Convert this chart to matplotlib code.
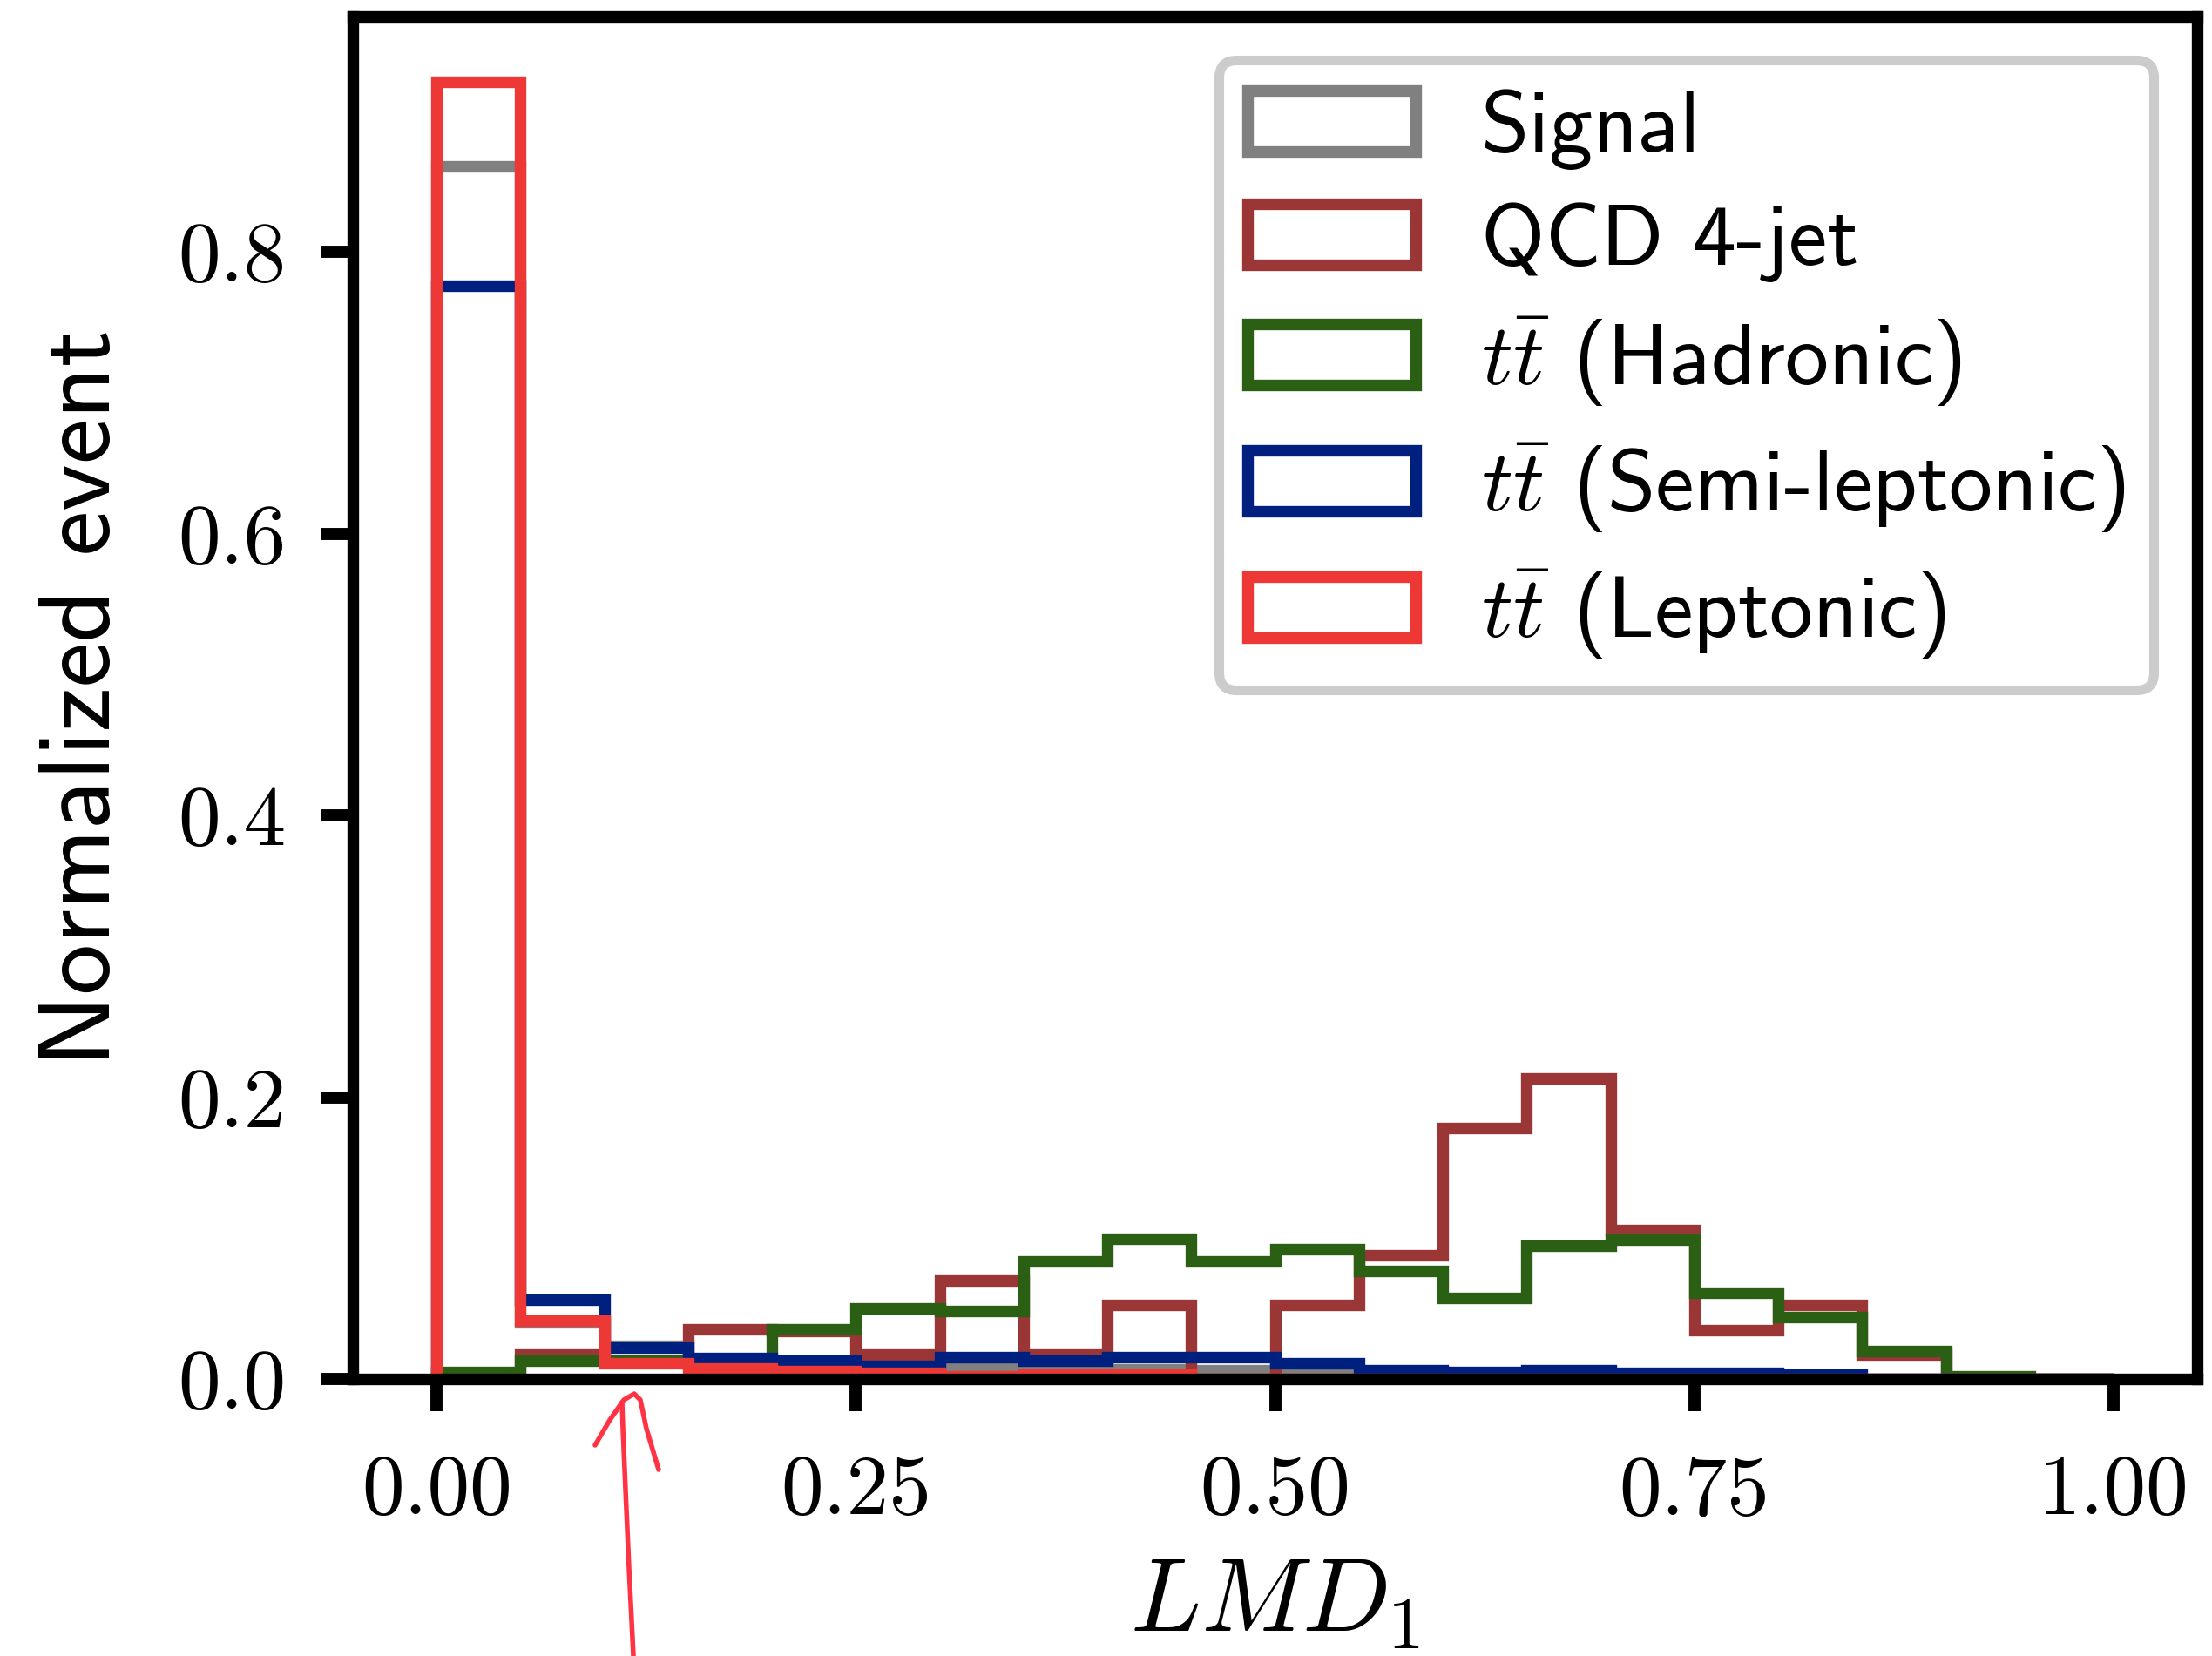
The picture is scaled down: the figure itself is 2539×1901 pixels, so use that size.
import numpy as np
import matplotlib
matplotlib.use("Agg")
import matplotlib.pyplot as plt
from matplotlib.lines import Line2D

plt.rcParams['mathtext.fontset'] = 'cm'
plt.rcParams['axes.unicode_minus'] = False

# ---- data (normalized event fractions per bin, LMD_1 in [0,1], 20 bins) ----
bin_edges = np.linspace(0.0, 1.0, 21)

signal = [0.861, 0.040, 0.0235, 0.012, 0.010, 0.008, 0.010, 0.008, 0.007, 0.006,
          0.006, 0.003, 0.002, 0.002, 0.001, 0.0, 0.0, 0.0, 0.0, 0.0]
qcd4jet = [0.0, 0.0173, 0.012, 0.0351, 0.034, 0.0173, 0.070, 0.0173, 0.0524, 0.0,
           0.0524, 0.0881, 0.178, 0.2134, 0.1055, 0.0349, 0.0524, 0.017, 0.0, 0.0]
tt_hadronic = [0.005, 0.0132, 0.013, 0.013, 0.0355, 0.0503, 0.0483, 0.0834, 0.0993, 0.0834,
               0.0923, 0.0766, 0.0572, 0.0947, 0.099, 0.0611, 0.0437, 0.0198, 0.002, 0.0]
tt_semilep = [0.776, 0.0565, 0.022, 0.015, 0.0132, 0.009, 0.0153, 0.0132, 0.0153, 0.0153,
              0.011, 0.0064, 0.005, 0.0064, 0.004, 0.004, 0.003, 0.0, 0.0, 0.0]
tt_leptonic = [0.921, 0.0413, 0.011, 0.0076, 0.0055, 0.0043, 0.002, 0.003, 0.003, 0.0,
               0.0, 0.0, 0.0, 0.0, 0.0, 0.0, 0.0, 0.0, 0.0, 0.0]

labels = ["Signal", "QCD 4-jet", r"$t\bar{t}$ (Hadronic)",
          r"$t\bar{t}$ (Semi-leptonic)", r"$t\bar{t}$ (Leptonic)"]
colors = ["#808080", "#9a3636", "#2b5f13", "#00207f", "#ee3836"]
series = [signal, qcd4jet, tt_hadronic, tt_semilep, tt_leptonic]

xticks = [0.00, 0.25, 0.50, 0.75, 1.00]
xticklabels = ["0.00", "0.25", "0.50", "0.75", "1.00"]
yticks = [0.0, 0.2, 0.4, 0.6, 0.8]
yticklabels = ["0.0", "0.2", "0.4", "0.6", "0.8"]

# ---- figure ----
DPI = 400
fig = plt.figure(figsize=(2539 / DPI, 1901 / DPI), dpi=DPI)
ax = fig.add_axes([0.1595, 0.1673, 0.9934 - 0.1595, 0.9898 - 0.1673])

centers = 0.5 * (bin_edges[:-1] + bin_edges[1:])
for vals, lab, col in zip(series, labels, colors):
    ax.hist(centers, bins=bin_edges, weights=vals, histtype='step',
            color=col, linewidth=2.4, label=lab)

ax.set_xlim(-0.05, 1.05)
ax.set_ylim(bottom=0)

for sp in ax.spines.values():
    sp.set_linewidth(2.4)

ax.set_xticks(xticks)
ax.set_xticklabels(xticklabels, fontfamily='cmr10', fontsize=17.5)
ax.set_yticks(yticks)
ax.set_yticklabels(yticklabels, fontfamily='cmr10', fontsize=17.5)
ax.tick_params(axis='both', direction='out', length=6.7, width=2.5)
ax.tick_params(axis='x', pad=9)
ax.tick_params(axis='y', pad=7)

ax.set_xlabel(r"$LMD_1$", fontsize=21.5, labelpad=4.5)
ax.set_ylabel("Normalized event", fontfamily='cmss10', fontsize=21, labelpad=10)

leg = ax.legend(loc='upper right', prop={'family': 'cmss10', 'size': 18},
                fancybox=True, framealpha=1.0, edgecolor='#cccccc',
                borderaxespad=0.5, labelspacing=0.37, borderpad=0.33,
                handlelength=1.93, handletextpad=0.75)
leg.get_frame().set_linewidth(2.0)

# hand-drawn red arrow annotation (figure pixel coords)
W, H = 2539.0, 1901.0
def fx(p):
    return [q / W for q in p]
def fy(p):
    return [1 - q / H for q in p]
shaft_x = [727, 722, 718, 715, 714]
shaft_y = [1901, 1800, 1710, 1640, 1610]
head_x = [683, 700, 716, 728, 735, 742, 756]
head_y = [1659, 1630, 1607, 1600, 1607, 1640, 1687]
arrow_col = "#ff3344"
fig.add_artist(Line2D(fx(shaft_x), fy(shaft_y), transform=fig.transFigure,
                      color=arrow_col, linewidth=1.0, solid_capstyle='round'))
fig.add_artist(Line2D(fx(head_x), fy(head_y), transform=fig.transFigure,
                      color=arrow_col, linewidth=1.0, solid_capstyle='round',
                      solid_joinstyle='round'))

fig.savefig("out.png", dpi=DPI)
